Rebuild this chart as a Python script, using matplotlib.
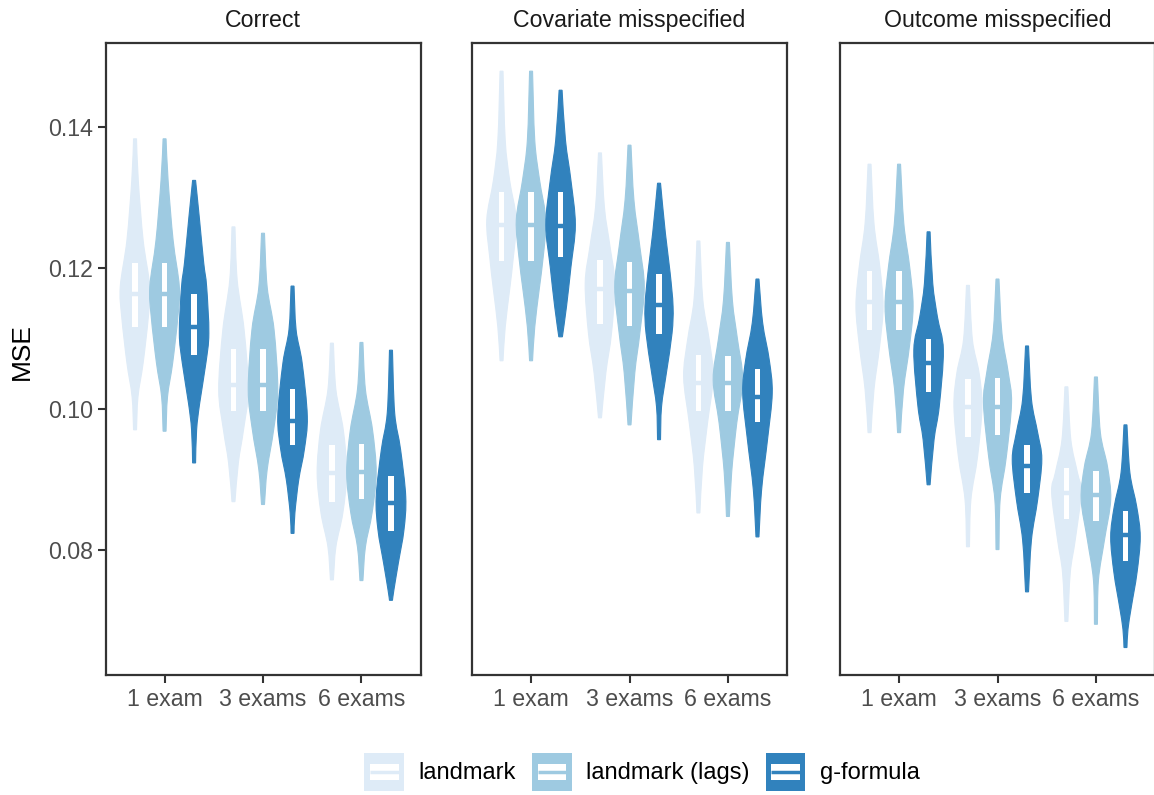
"""Violin plots of MSE by number of exams for three estimators in three scenarios."""
import matplotlib
matplotlib.use("Agg")
import matplotlib.pyplot as plt
from matplotlib.legend_handler import HandlerBase
from matplotlib.lines import Line2D
from matplotlib.patches import Patch, PathPatch, Rectangle
from matplotlib.path import Path

plt.rcParams["font.family"] = ["Liberation Sans", "DejaVu Sans"]

SCENARIOS = ["Correct", "Covariate misspecified", "Outcome misspecified"]
EXAMS = ["1 exam", "3 exams", "6 exams"]
METHODS = ["landmark", "landmark (lags)", "g-formula"]
COLORS = ["#DEEBF7", "#9ECAE1", "#3182BD"]

# Violin outlines: MSE levels (top to bottom) and relative density at each level.
# Order within a scenario: exam-major, method-minor.
CORRECT_MSE = [
    [0.1383, 0.1324, 0.1239, 0.1173, 0.1130, 0.1065, 0.1017, 0.0970],
    [0.1383, 0.1324, 0.1239, 0.1173, 0.1130, 0.1065, 0.1017, 0.0968],
    [0.1324, 0.1272, 0.1207, 0.1173, 0.1107, 0.1065, 0.1008, 0.0970, 0.0923],
    [0.1258, 0.1183, 0.1112, 0.1027, 0.0970, 0.0923, 0.0868],
    [0.1249, 0.1173, 0.1112, 0.1027, 0.0970, 0.0913, 0.0864],
    [0.1174, 0.1112, 0.1065, 0.0989, 0.0942, 0.0899, 0.0852, 0.0823],
    [0.1093, 0.1027, 0.0970, 0.0909, 0.0852, 0.0804, 0.0757],
    [0.1094, 0.1027, 0.0970, 0.0909, 0.0852, 0.0804, 0.0756],
    [0.1083, 0.0994, 0.0942, 0.0875, 0.0828, 0.0781, 0.0743, 0.0728],
]
CORRECT_DENS = [
    [0.1, 0.22, 0.55, 1.0, 0.9, 0.55, 0.2, 0.1],
    [0.1, 0.24, 0.58, 1.0, 0.9, 0.55, 0.2, 0.1],
    [0.1, 0.35, 0.65, 0.85, 1.0, 0.8, 0.38, 0.17, 0.1],
    [0.1, 0.25, 0.72, 1.0, 0.68, 0.33, 0.1],
    [0.1, 0.28, 0.75, 1.0, 0.72, 0.28, 0.1],
    [0.1, 0.24, 0.65, 1.0, 0.8, 0.42, 0.16, 0.1],
    [0.1, 0.27, 0.77, 1.0, 0.74, 0.27, 0.1],
    [0.1, 0.27, 0.75, 1.0, 0.72, 0.27, 0.1],
    [0.1, 0.25, 0.65, 1.0, 0.88, 0.5, 0.2, 0.1],
]
COVARIATE_MSE = [
    [0.1479, 0.1381, 0.1324, 0.1268, 0.1215, 0.1169, 0.1116, 0.1068],
    [0.1479, 0.1381, 0.1324, 0.1268, 0.1215, 0.1169, 0.1116, 0.1068],
    [0.1452, 0.1381, 0.1324, 0.1261, 0.1201, 0.1145, 0.1102],
    [0.1363, 0.1286, 0.1230, 0.1178, 0.1107, 0.1051, 0.0987],
    [0.1374, 0.1296, 0.1230, 0.1173, 0.1107, 0.1051, 0.0977],
    [0.1320, 0.1249, 0.1193, 0.1145, 0.1107, 0.1051, 0.1003, 0.0956],
    [0.1238, 0.1154, 0.1098, 0.1045, 0.0980, 0.0918, 0.0852],
    [0.1236, 0.1154, 0.1098, 0.1041, 0.0980, 0.0909, 0.0847],
    [0.1184, 0.1122, 0.1069, 0.1022, 0.0956, 0.0885, 0.0818],
]
COVARIATE_DENS = [
    [0.1, 0.25, 0.55, 1.0, 0.8, 0.55, 0.25, 0.1],
    [0.1, 0.25, 0.58, 1.0, 0.82, 0.55, 0.25, 0.1],
    [0.1, 0.33, 0.7, 1.0, 0.7, 0.4, 0.12],
    [0.1, 0.3, 0.68, 1.0, 0.78, 0.4, 0.1],
    [0.1, 0.3, 0.7, 1.0, 0.7, 0.36, 0.1],
    [0.1, 0.43, 0.75, 0.95, 0.88, 0.5, 0.17, 0.1],
    [0.1, 0.3, 0.73, 1.0, 0.62, 0.28, 0.1],
    [0.1, 0.3, 0.65, 1.0, 0.6, 0.25, 0.1],
    [0.1, 0.35, 0.8, 1.0, 0.68, 0.28, 0.1],
]
OUTCOME_MSE = [
    [0.1347, 0.1263, 0.1201, 0.1145, 0.1088, 0.1027, 0.0966],
    [0.1347, 0.1263, 0.1201, 0.1145, 0.1088, 0.1027, 0.0966],
    [0.1251, 0.1178, 0.1130, 0.1083, 0.1003, 0.0956, 0.0892],
    [0.1175, 0.1098, 0.1051, 0.1003, 0.0932, 0.0871, 0.0804],
    [0.1184, 0.1107, 0.1051, 0.1008, 0.0932, 0.0871, 0.0800],
    [0.1089, 0.1013, 0.0966, 0.0928, 0.0871, 0.0814, 0.0740],
    [0.1031, 0.0956, 0.0909, 0.0881, 0.0814, 0.0767, 0.0698],
    [0.1045, 0.0966, 0.0918, 0.0871, 0.0814, 0.0757, 0.0694],
    [0.0977, 0.0909, 0.0861, 0.0818, 0.0767, 0.0719, 0.0687, 0.0661],
]
OUTCOME_DENS = [
    [0.1, 0.3, 0.7, 0.92, 0.68, 0.3, 0.1],
    [0.1, 0.32, 0.72, 0.95, 0.7, 0.3, 0.1],
    [0.1, 0.28, 0.6, 1.0, 0.72, 0.37, 0.1],
    [0.1, 0.3, 0.75, 0.95, 0.65, 0.2, 0.1],
    [0.1, 0.3, 0.73, 0.95, 0.6, 0.18, 0.1],
    [0.1, 0.3, 0.72, 1.0, 0.72, 0.3, 0.1],
    [0.1, 0.3, 0.75, 1.0, 0.6, 0.26, 0.1],
    [0.1, 0.3, 0.78, 1.0, 0.58, 0.17, 0.1],
    [0.1, 0.3, 0.76, 1.0, 0.78, 0.4, 0.17, 0.1],
]

# Box summaries (upper quartile, median, lower quartile), same order as above.
CORRECT_BOX = [
    (0.1207, 0.1163, 0.1116), (0.1207, 0.1163, 0.1116), (0.1163, 0.1116, 0.1076),
    (0.1085, 0.1034, 0.0996), (0.1085, 0.1034, 0.0996), (0.1028, 0.0982, 0.0949),
    (0.0948, 0.0909, 0.0868), (0.0950, 0.0910, 0.0872), (0.0904, 0.0866, 0.0826),
]
COVARIATE_BOX = [
    (0.1307, 0.1261, 0.1210), (0.1307, 0.1261, 0.1210), (0.1307, 0.1259, 0.1215),
    (0.1211, 0.1170, 0.1120), (0.1208, 0.1167, 0.1118), (0.1191, 0.1147, 0.1106),
    (0.1076, 0.1036, 0.0997), (0.1075, 0.1036, 0.0996), (0.1057, 0.1017, 0.0981),
]
OUTCOME_BOX = [
    (0.1195, 0.1151, 0.1111), (0.1195, 0.1151, 0.1111), (0.1099, 0.1065, 0.1023),
    (0.1042, 0.1003, 0.0960), (0.1044, 0.1003, 0.0963), (0.0949, 0.0918, 0.0880),
    (0.0916, 0.0881, 0.0844), (0.0912, 0.0878, 0.0841), (0.0855, 0.0820, 0.0784),
]

PANEL_DATA = [
    (CORRECT_MSE, CORRECT_DENS, CORRECT_BOX),
    (COVARIATE_MSE, COVARIATE_DENS, COVARIATE_BOX),
    (OUTCOME_MSE, OUTCOME_DENS, OUTCOME_BOX),
]

DODGE = 0.3
HALF_WIDTH = 0.15
BOX_WIDTH = 0.055
BORDER = "#333333"


def curve_through(points):
    """Cubic Bezier segments (Catmull-Rom tangents) passing through every point."""
    verts, n = [], len(points)
    for i in range(n - 1):
        p0 = points[max(i - 1, 0)]
        p1, p2 = points[i], points[i + 1]
        p3 = points[min(i + 2, n - 1)]
        c1 = (p1[0] + (p2[0] - p0[0]) / 6, p1[1] + (p2[1] - p0[1]) / 6)
        c2 = (p2[0] - (p3[0] - p1[0]) / 6, p2[1] - (p3[1] - p1[1]) / 6)
        verts += [c1, c2, p2]
    return verts


def violin_patch(pos, mse, dens, color):
    right = [(pos + d * HALF_WIDTH, y) for y, d in zip(mse, dens)]
    left = [(pos - d * HALF_WIDTH, y) for y, d in zip(mse, dens)][::-1]
    r_curve, l_curve = curve_through(right), curve_through(left)
    verts = [right[0]] + r_curve + [left[0]] + l_curve + [right[0]]
    codes = ([Path.MOVETO] + [Path.CURVE4] * len(r_curve) + [Path.LINETO]
             + [Path.CURVE4] * len(l_curve) + [Path.CLOSEPOLY])
    return PathPatch(Path(verts, codes), facecolor=color, edgecolor=color,
                     lw=0.8, zorder=2)


class BoxKeyHandler(HandlerBase):
    """Legend key: filled square with a white box and a median line."""

    def create_artists(self, legend, orig_handle, xdescent, ydescent,
                       width, height, fontsize, trans):
        color = orig_handle.get_facecolor()
        x0, y0 = -xdescent, -ydescent
        bg = Rectangle((x0, y0), width, height, fc=color, ec="none", transform=trans)
        box = Rectangle((x0 + 0.145 * width, y0 + 0.28 * height), 0.71 * width,
                        0.44 * height, fc="white", ec="none", transform=trans)
        med = Line2D([x0 + 0.145 * width, x0 + 0.855 * width],
                     [y0 + 0.5 * height, y0 + 0.5 * height],
                     color=color, lw=2.5, solid_capstyle="butt", transform=trans)
        return [bg, box, med]


fig = plt.figure(figsize=(11.54, 7.95), dpi=100)
lefts = [105.5 / 1154, 472 / 1154, 840 / 1154]
bottom = 1 - 675 / 795
height = (675 - 43) / 795
width = 315 / 1154

for p, (name, (mse, dens, boxes)) in enumerate(zip(SCENARIOS, PANEL_DATA)):
    ax = fig.add_axes([lefts[p], bottom, width, height])
    for i in range(len(EXAMS)):
        for j, color in enumerate(COLORS):
            k = i * len(METHODS) + j
            pos = i + 1 + (j - 1) * DODGE
            ax.add_patch(violin_patch(pos, mse[k], dens[k], color))
            q3, med, q1 = boxes[k]
            ax.add_patch(Rectangle((pos - BOX_WIDTH / 2, q1), BOX_WIDTH, q3 - q1,
                                   fc="white", ec="none", zorder=3))
            ax.plot([pos - BOX_WIDTH / 2, pos + BOX_WIDTH / 2], [med, med],
                    color=color, lw=3.2, solid_capstyle="butt", zorder=4)

    ax.set_xlim(0.4, 3.6)
    ax.set_ylim(0.0622, 0.1519)
    ax.set_xticks([1, 2, 3], EXAMS)
    ax.set_yticks([0.08, 0.10, 0.12, 0.14], ["0.08", "0.10", "0.12", "0.14"])
    ax.tick_params(axis="both", length=5.5, width=1.5, color=BORDER,
                   labelcolor="#4D4D4D", labelsize=16.7, pad=3.5)
    if p > 0:
        ax.tick_params(axis="y", left=False, labelleft=False)
    for spine in ax.spines.values():
        spine.set_linewidth(1.6)
        spine.set_color(BORDER)
    ax.annotate(name, xy=(0.5, 1), xycoords="axes fraction", xytext=(0, 16),
                textcoords="offset points", ha="center", va="center",
                fontsize=16.7, color="#1A1A1A")

fig.text(22 / 1154, 1 - 352 / 795, "MSE", rotation=90, ha="center",
         va="center", fontsize=19, color="black")

handles = [Patch(facecolor=c, label=m) for c, m in zip(COLORS, METHODS)]
fig.legend(handles=handles, loc="center", bbox_to_anchor=(642 / 1154, 1 - 772 / 795),
           ncol=3, frameon=False, fontsize=17, handlelength=1.69, handleheight=2.1,
           handletextpad=0.6, columnspacing=0.68, borderpad=0.1,
           handler_map={Patch: BoxKeyHandler()})

fig.savefig("out.png", dpi=100)
